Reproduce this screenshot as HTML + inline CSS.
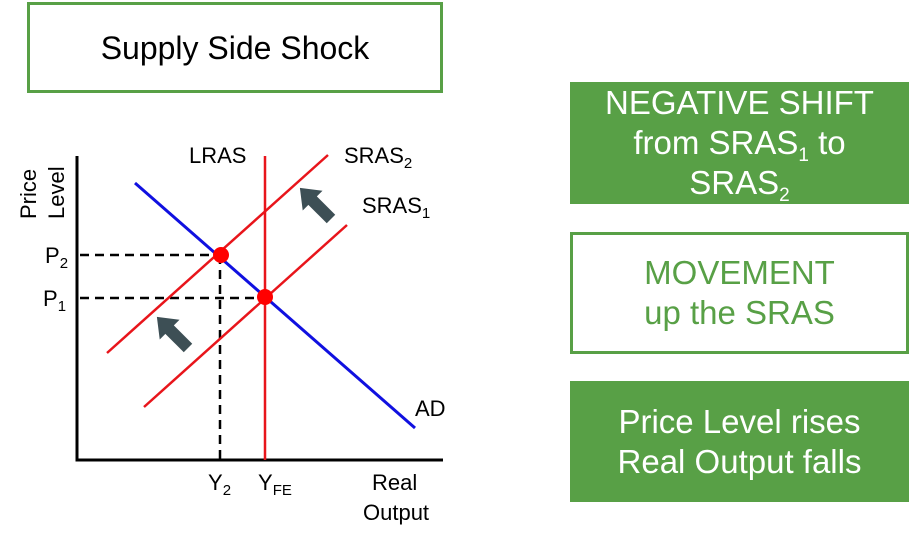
<!DOCTYPE html>
<html><head><style>
body{margin:0;width:911px;height:541px;background:#fff;overflow:hidden;font-family:"Liberation Sans",sans-serif;position:relative}
.b{position:absolute;box-sizing:border-box;text-align:center;display:flex;flex-direction:column;justify-content:center;font-size:33px;line-height:40px}
.f{background:#58a046;color:#fff}
.o{border:3px solid #58a046;color:#58a046;background:#fff}
sub{font-size:19px;line-height:0;vertical-align:-7px}
</style></head><body>
<div class="b" style="left:27px;top:2px;width:416px;height:91px;border:3px solid #58a046;color:#000;font-size:32px">Supply Side Shock</div>
<div class="b f" style="left:570px;top:82px;width:339px;height:122px"><div>NEGATIVE SHIFT</div><div>from SRAS<sub>1</sub> to</div><div>SRAS<sub>2</sub></div></div>
<div class="b o" style="left:570px;top:232px;width:339px;height:122px"><div>MOVEMENT</div><div>up the SRAS</div></div>
<div class="b f" style="left:570px;top:381px;width:339px;height:121px"><div>Price Level rises</div><div>Real Output falls</div></div>
<svg width="911" height="541" style="position:absolute;left:0;top:0" font-family="Liberation Sans, sans-serif" font-size="22">
<g stroke="#000" stroke-width="2.5" stroke-dasharray="9,6" fill="none">
<line x1="80" y1="255" x2="221" y2="255"/><line x1="80" y1="298" x2="265" y2="298"/><line x1="220" y1="255" x2="220" y2="460"/>
</g>
<path d="M77 156 V460 H443" stroke="#000" stroke-width="3" fill="none"/>
<line x1="265" y1="156" x2="265" y2="460" stroke="#e8151b" stroke-width="2.5"/>
<line x1="107" y1="353" x2="328" y2="155" stroke="#e8151b" stroke-width="2.5"/>
<line x1="144" y1="407" x2="347" y2="225" stroke="#e8151b" stroke-width="2.5"/>
<line x1="135" y1="183" x2="415" y2="428" stroke="#1010e0" stroke-width="3"/>
<circle cx="221" cy="255" r="8" fill="#f00"/><circle cx="265" cy="297" r="8" fill="#f00"/>
<g fill="#3d4f55">
<polygon points="0,-6 26,-6 26,-14 44,0 26,14 26,6 0,6" transform="translate(331,219) rotate(-135)"/>
<polygon points="0,-6 26,-6 26,-14 44,0 26,14 26,6 0,6" transform="translate(188,348) rotate(-135)"/>
</g>
<text x="189" y="163">LRAS</text>
<text x="344" y="163">SRAS<tspan font-size="15" dy="5">2</tspan></text>
<text x="362" y="213">SRAS<tspan font-size="15" dy="5">1</tspan></text>
<text x="415" y="416">AD</text>
<text x="45" y="263">P<tspan font-size="15" dy="5">2</tspan></text>
<text x="43" y="306">P<tspan font-size="15" dy="5">1</tspan></text>
<text x="208" y="490">Y<tspan font-size="15" dy="5">2</tspan></text>
<text x="258" y="490">Y<tspan font-size="15" dy="5">FE</tspan></text>
<text x="372" y="490">Real</text>
<text x="363" y="520">Output</text>
<text transform="translate(36,219) rotate(-90)">Price</text>
<text transform="translate(64,219) rotate(-90)">Level</text>
</svg>
</body></html>
